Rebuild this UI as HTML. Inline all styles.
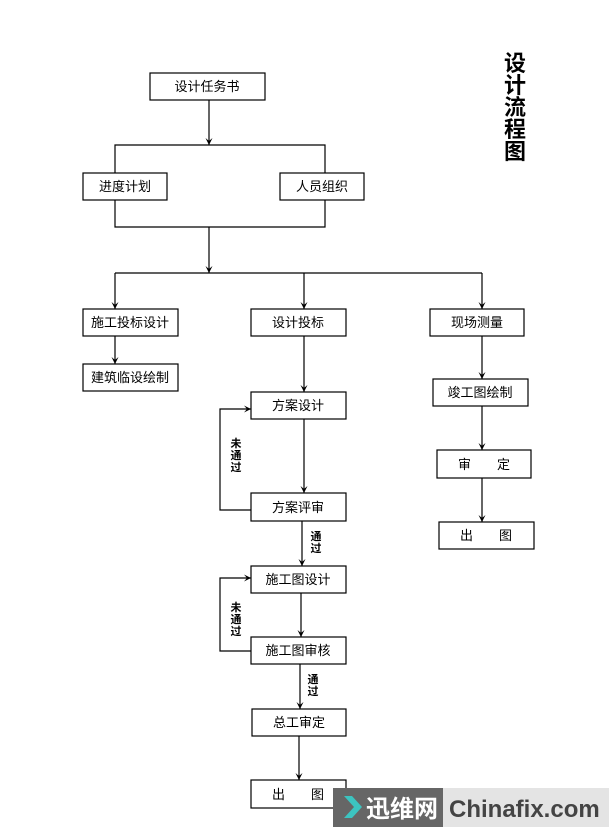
<!DOCTYPE html>
<html><head><meta charset="utf-8"><style>
html,body{margin:0;padding:0;background:#fff;}
svg{display:block;}
text{font-family:"Liberation Sans","Noto Sans CJK SC",sans-serif;}
</style></head><body>
<svg width="610" height="832" viewBox="0 0 610 832" xmlns="http://www.w3.org/2000/svg">
<defs>
<marker id="a" markerWidth="8" markerHeight="9" refX="4" refY="8" orient="0" markerUnits="userSpaceOnUse">
<path d="M0.5,1 L4,8 L7.5,1 L4,4 Z" fill="#000"/>
</marker>
<marker id="r" markerWidth="9" markerHeight="8" refX="8" refY="4" orient="0" markerUnits="userSpaceOnUse">
<path d="M1,0.5 L8,4 L1,7.5 L4,4 Z" fill="#000"/>
</marker>
</defs>
<g fill="none" stroke="#000" stroke-width="1.2">
<rect x="150" y="73" width="115" height="27"/>
<rect x="83" y="173" width="84" height="27"/>
<rect x="280" y="173" width="84" height="27"/>
<rect x="83" y="309" width="95" height="27"/>
<rect x="251" y="309" width="95" height="27"/>
<rect x="430" y="309" width="94" height="27"/>
<rect x="83" y="364" width="95" height="27"/>
<rect x="433" y="379" width="95" height="27"/>
<rect x="251" y="392" width="95" height="27"/>
<rect x="251" y="493" width="95" height="28"/>
<rect x="437" y="450" width="94" height="28"/>
<rect x="439" y="522" width="95" height="27"/>
<rect x="251" y="566" width="95" height="27"/>
<rect x="251" y="637" width="95" height="27"/>
<rect x="252" y="709" width="94" height="27"/>
<rect x="251" y="780" width="95" height="28"/>
<line x1="209" y1="100" x2="209" y2="145" marker-end="url(#a)"/>
<polyline points="115,173 115,145 325,145 325,173"/>
<polyline points="115,200 115,227 325,227 325,200"/>
<line x1="209" y1="227" x2="209" y2="273" marker-end="url(#a)"/>
<line x1="115" y1="273" x2="482" y2="273"/>
<line x1="115" y1="273" x2="115" y2="309" marker-end="url(#a)"/>
<line x1="304" y1="273" x2="304" y2="309" marker-end="url(#a)"/>
<line x1="482" y1="273" x2="482" y2="309" marker-end="url(#a)"/>
<line x1="115" y1="336" x2="115" y2="364" marker-end="url(#a)"/>
<line x1="304" y1="336" x2="304" y2="392" marker-end="url(#a)"/>
<line x1="482" y1="336" x2="482" y2="379" marker-end="url(#a)"/>
<line x1="482" y1="406" x2="482" y2="450" marker-end="url(#a)"/>
<line x1="482" y1="478" x2="482" y2="522" marker-end="url(#a)"/>
<line x1="304" y1="419" x2="304" y2="493" marker-end="url(#a)"/>
<polyline points="251,510 220,510 220,409 251,409" marker-end="url(#r)"/>
<line x1="302" y1="521" x2="302" y2="566" marker-end="url(#a)"/>
<line x1="301" y1="593" x2="301" y2="637" marker-end="url(#a)"/>
<polyline points="251,651 220,651 220,578 251,578" marker-end="url(#r)"/>
<line x1="300" y1="664" x2="300" y2="709" marker-end="url(#a)"/>
<line x1="299" y1="736" x2="299" y2="780" marker-end="url(#a)"/>
</g>
<g font-size="13" fill="#000" text-anchor="middle">
<text x="207" y="91">设计任务书</text>
<text x="125" y="191">进度计划</text>
<text x="322" y="191">人员组织</text>
<text x="130" y="327">施工投标设计</text>
<text x="298" y="327">设计投标</text>
<text x="477" y="327">现场测量</text>
<text x="130" y="382">建筑临设绘制</text>
<text x="480" y="397">竣工图绘制</text>
<text x="298" y="410">方案设计</text>
<text x="298" y="512">方案评审</text>
<text x="484" y="469">审　　定</text>
<text x="486" y="540">出　　图</text>
<text x="298" y="584">施工图设计</text>
<text x="298" y="655">施工图审核</text>
<text x="299" y="727">总工审定</text>
<text x="298" y="799">出　　图</text>
</g>
<g font-size="11" font-weight="bold" fill="#000" text-anchor="middle">
<text x="236" y="447">未</text><text x="236" y="459">通</text><text x="236" y="471">过</text>
<text x="236" y="611">未</text><text x="236" y="623">通</text><text x="236" y="635">过</text>
<text x="316" y="540">通</text><text x="316" y="552">过</text>
<text x="313" y="683">通</text><text x="313" y="695">过</text>
</g>
<g font-size="22" font-weight="bold" fill="#000" text-anchor="middle" style="font-family:'Noto Serif CJK SC',serif">
<text x="515" y="71">设</text><text x="515" y="93">计</text><text x="515" y="115">流</text><text x="515" y="137">程</text><text x="515" y="159">图</text>
</g>
<rect x="333" y="788" width="110" height="39" fill="#666"/>
<rect x="443" y="788" width="166" height="39" fill="#e4e4e4"/>
<path d="M344,796 L352,796 L362,807 L352,818 L344,818 L354,807 Z" fill="#3cc4c0"/>
<text x="366" y="817" font-size="24" font-weight="bold" fill="#fff">迅维网</text>
<text x="449" y="817" font-size="24" font-weight="bold" fill="#444">Chinafix.com</text>
</svg>
</body></html>
